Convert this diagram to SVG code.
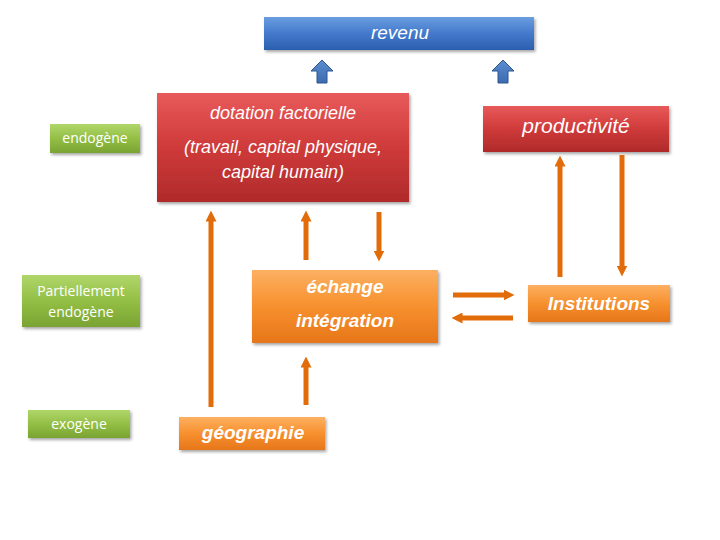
<svg xmlns="http://www.w3.org/2000/svg" width="720" height="540" viewBox="0 0 720 540">
<defs>
<linearGradient id="gBlue" x1="0" y1="0" x2="0" y2="1"><stop offset="0" stop-color="#6a9de0"/><stop offset="0.5" stop-color="#4479cc"/><stop offset="1" stop-color="#2c5fae"/></linearGradient>
<linearGradient id="gRed" x1="0" y1="0" x2="0" y2="1"><stop offset="0" stop-color="#e85a5a"/><stop offset="0.5" stop-color="#cf3a3a"/><stop offset="1" stop-color="#b02a2a"/></linearGradient>
<linearGradient id="gOrange" x1="0" y1="0" x2="0" y2="1"><stop offset="0" stop-color="#fdb062"/><stop offset="0.5" stop-color="#f7902e"/><stop offset="1" stop-color="#e6761a"/></linearGradient>
<linearGradient id="gGreen" x1="0" y1="0" x2="0" y2="1"><stop offset="0" stop-color="#b0d66a"/><stop offset="0.5" stop-color="#93bf45"/><stop offset="1" stop-color="#7aa332"/></linearGradient>
<linearGradient id="gArrow" x1="0" y1="0" x2="0" y2="1"><stop offset="0" stop-color="#5b8ed0"/><stop offset="1" stop-color="#3c6bb0"/></linearGradient>
<filter id="sh" x="-10%" y="-20%" width="125%" height="150%"><feDropShadow dx="1.5" dy="2" stdDeviation="1.5" flood-color="#000" flood-opacity="0.35"/></filter>
<marker id="ah" viewBox="0 0 10 10" refX="5" refY="5" markerWidth="11" markerHeight="11" markerUnits="userSpaceOnUse" orient="auto"><path d="M0,0 L10,5 L0,10 Z" fill="#e36c0a"/></marker>
</defs>
<style>
.txt{font-family:"Liberation Sans",Arial,sans-serif;font-style:italic;fill:#fff;text-anchor:middle}
.gtxt{font-family:"Open Sans","Noto Sans",sans-serif;fill:#fff;text-anchor:middle;font-size:14px}
.conn{stroke:#e36c0a;stroke-width:5;fill:none;marker-end:url(#ah)}
.blue{fill:url(#gArrow);stroke:#2f5690;stroke-width:1}
</style>
<g id="revenu"><rect x="264" y="17" width="270" height="33" fill="url(#gBlue)" filter="url(#sh)"/><text class="txt" x="400" y="39" font-size="19">revenu</text></g>
<g id="dotation"><rect x="157" y="93" width="252" height="109" fill="url(#gRed)" filter="url(#sh)"/><text class="txt" x="283" y="119" font-size="18">dotation factorielle</text><text class="txt" x="283" y="153" font-size="18">(travail, capital physique,</text><text class="txt" x="283" y="178" font-size="18">capital humain)</text></g>
<g id="productivite"><rect x="483" y="106" width="186" height="46" fill="url(#gRed)" filter="url(#sh)"/><text class="txt" x="576" y="133" font-size="21">productivité</text></g>
<g id="echange"><rect x="252" y="270" width="186" height="73" fill="url(#gOrange)" filter="url(#sh)"/><text class="txt" x="345" y="293" font-size="19" font-weight="bold">échange</text><text class="txt" x="345" y="327" font-size="19" font-weight="bold">intégration</text></g>
<g id="geographie"><rect x="179" y="417" width="146" height="33" fill="url(#gOrange)" filter="url(#sh)"/><text class="txt" x="253" y="439" font-size="19" font-weight="bold">géographie</text></g>
<g id="institutions"><rect x="528" y="285" width="142" height="37" fill="url(#gOrange)" filter="url(#sh)"/><text class="txt" x="599" y="310" font-size="19" font-weight="bold">Institutions</text></g>
<g id="endogene"><rect x="50" y="124" width="90" height="29" fill="url(#gGreen)" filter="url(#sh)"/><text class="gtxt" x="95" y="143">endogène</text></g>
<g id="partiellement"><rect x="22" y="275" width="118" height="52" fill="url(#gGreen)" filter="url(#sh)"/><text class="gtxt" x="81" y="296">Partiellement</text><text class="gtxt" x="81" y="317">endogène</text></g>
<g id="exogene"><rect x="28" y="410" width="102" height="28" fill="url(#gGreen)" filter="url(#sh)"/><text class="gtxt" x="79" y="429">exogène</text></g>
<g id="connectors">
<polygon class="blue" points="322,60 333,71 327,71 327,83 317,83 317,71 311,71"/>
<polygon class="blue" points="503,60 514,71 508,71 508,83 498,83 498,71 492,71"/>
<line class="conn" x1="211" y1="407" x2="211" y2="216"/>
<line class="conn" x1="306" y1="260" x2="306" y2="216"/>
<line class="conn" x1="379" y1="212" x2="379" y2="256"/>
<line class="conn" x1="306" y1="405" x2="306" y2="362"/>
<line class="conn" x1="560" y1="277" x2="560" y2="161"/>
<line class="conn" x1="622" y1="155" x2="622" y2="271"/>
<line class="conn" x1="453" y1="295" x2="509" y2="295"/>
<line class="conn" x1="513" y1="318" x2="457" y2="318"/>
</g>
</svg>
